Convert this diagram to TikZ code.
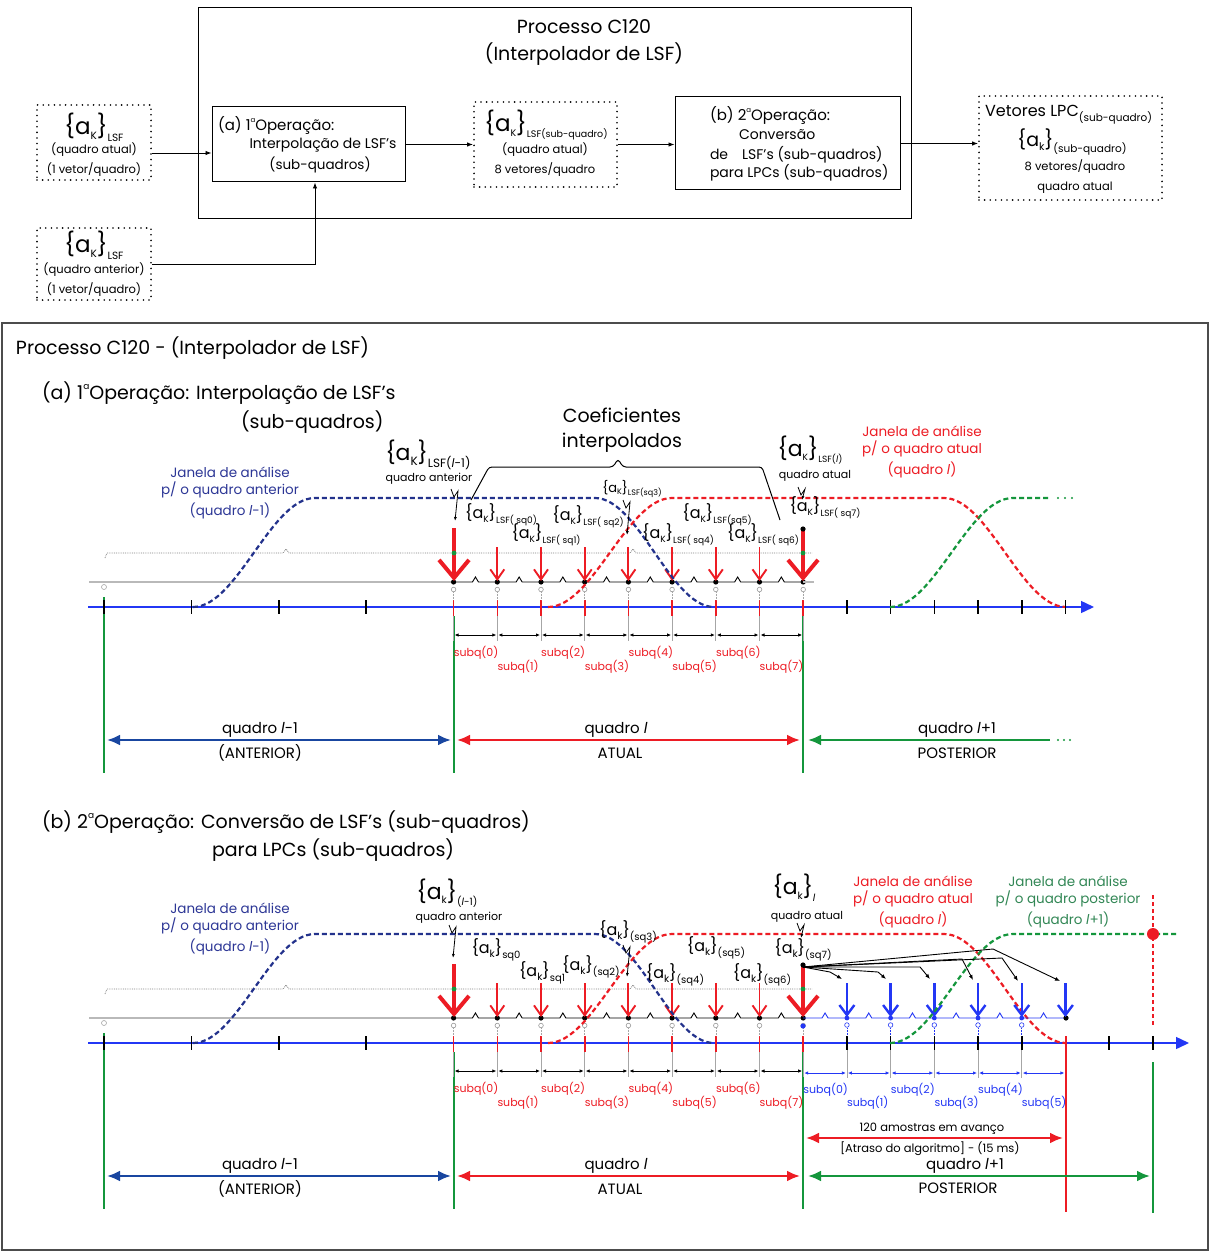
\documentclass[tikz,border=0pt]{standalone}
\usepackage{fontspec}
\setmainfont{Poppins}
\usetikzlibrary{arrows.meta,calc}

\definecolor{axisblue}{RGB}{35,55,245}
\definecolor{navy}{RGB}{25,70,160}
\definecolor{winblue}{RGB}{35,50,140}
\definecolor{labblue}{RGB}{45,55,150}
\definecolor{fred}{RGB}{237,28,36}
\definecolor{fgreen}{RGB}{20,150,60}
\definecolor{labgreen}{RGB}{50,135,85}

\newcommand{\fsz}[1]{\fontsize{#1}{#1}\selectfont}
% coefficient set {a_K}_sub
\newcommand{\coefk}[4]{{\fsz{#1}\{a\raisebox{-0.22em}{\fsz{#2}#3}\}\raisebox{-0.3em}{\fsz{#2}#4}}}
\newcommand{\il}{\textit{l}}
\newcommand{\ordn}[2]{#1\raisebox{0.5em}{\fsz{#2}a}}
% small broken arrow pointing down at x=#1 from y=#2 to y=#3
\newcommand{\bolt}[3]{\draw[boltarr] ({#1-4},#2) -- ({#1-1},{#2+8}) -- ({#1+3},{#2+2}) -- (#1,#3);}

\tikzset{
  dotbox/.style={draw, line width=1.8pt, dash pattern=on 0pt off 5.6pt, line cap=round, inner sep=0pt},
  procbox/.style={draw, line width=1pt, inner sep=0pt},
  flow/.style={line width=0.9pt, -{Latex[length=6pt,width=4.5pt]}},
  txt/.style={inner sep=0pt, outer sep=0pt},
  greyline/.style={gray!55, line width=1.1pt},
  subline/.style={black, line width=0.9pt},
  axisline/.style={axisblue, line width=1.4pt, -{Triangle[length=13pt,width=12pt]}},
  tickmark/.style={black, line width=1.6pt},
  redtick/.style={fred, line width=1.6pt},
  bigdown/.style={fred, line width=4pt, -{Straight Barb[length=18pt,width=30pt]}},
  smalldown/.style={fred, line width=1.9pt, -{Straight Barb[length=10pt,width=14pt]}},
  bluedown/.style={axisblue, line width=2.4pt, -{Straight Barb[length=10pt,width=15pt]}},
  win/.style={line width=2.2pt, dash pattern=on 5pt off 3pt},
  framearr/.style={line width=2.4pt, {Latex[length=13pt,width=11pt]}-{Latex[length=13pt,width=11pt]}},
  dimarr/.style={line width=0.8pt, {Latex[length=4pt,width=3.5pt]}-{Latex[length=4pt,width=3.5pt]}},
  boltarr/.style={line width=0.8pt, -{Latex[length=4pt,width=3pt]}},
  fan/.style={line width=0.9pt, -{Latex[length=5pt,width=4pt]}},
  vline/.style={fgreen, line width=1.6pt},
  sublbl/.style={inner sep=0pt, anchor=west, font=\fsz{11}},
}

% parts shared by both time-line panels (drawn for an axis at y=607)
\newcommand{\panelbase}{%
  \draw[greyline] (89,582) -- (454,582);
  \foreach \i in {8,...,15}{%
    \pgfmathsetmacro{\xa}{104+43.7*\i}%
    \pgfmathsetmacro{\xm}{\xa+21.85}%
    \pgfmathsetmacro{\xb}{\xa+43.7}%
    \draw[subline] (\xa,582) -- ({\xm-3},582) -- (\xm,577) -- ({\xm+3},582) -- (\xb,582);
    \draw[dimarr] ({\xa+1},635) -- ({\xb-1},635);
  }
  \draw[gray, line width=0.8pt, densely dotted] (105,558) -- (107,553) -- (283,553) -- (286,549) -- (289,553) -- (630,553) -- (633,549) -- (636,553) -- (812,553);
  \draw[gray!70, line width=0.6pt] (104,587) circle (2.5pt);
  \draw[vline] (104,597) -- (104,773);
  \draw[vline] (454,616) -- (454,773);
  \draw[vline] (803,616) -- (803,773);
  \foreach \i in {0,2,4,6}{\draw[tickmark] ({104+43.7*\i},600) -- ({104+43.7*\i},614);}
  \foreach \i in {8,...,16}{%
    \pgfmathsetmacro{\xa}{104+43.7*\i}%
    \draw[redtick] (\xa,600) -- (\xa,616);
    \draw[gray!70, line width=0.7pt] (\xa,616) -- (\xa,641);
    \draw[gray!70, line width=0.6pt, densely dotted] (\xa,592) -- (\xa,600);
    \draw[gray!80, line width=0.6pt, fill=white] (\xa,589.5) circle (2.3pt);
    \fill (\xa,582) circle (2.6pt);
  }
  \foreach \i in {9,...,15}{\draw[smalldown] ({104+43.7*\i},547) -- ({104+43.7*\i},581);}
  \draw[bigdown] (454,528) -- (454,581);
  \draw[bigdown] (803,529) -- (803,581);
  \fill (803,529) circle (2.6pt);
  \fill[fgreen] (454,553) circle (2.4pt) (803,553) circle (2.4pt);
  \foreach \k in {0,...,7}{%
    \pgfmathsetmacro{\xa}{104+43.7*(\k+8)}%
    \pgfmathsetmacro{\yl}{isodd(\k) ? 667 : 653}%
    \node[sublbl, text=fred] at (\xa,\yl) {subq(\k)};
  }
  % analysis windows of the previous and the current frame
  \draw[win, winblue] plot[domain=0:1, samples=30] ({193+122*\x},{607-109*(1-cos(180*\x))/2})
     -- (595,498) -- plot[domain=0:1, samples=30] ({595+119*\x},{498+109*(1-cos(180*\x))/2});
  \draw[win, fred] plot[domain=0:1, samples=30] ({548+124*\x},{607-109*(1-cos(180*\x))/2})
     -- (944,498) -- plot[domain=0:1, samples=30] ({944+122*\x},{498+109*(1-cos(180*\x))/2});
  \node[txt, text=labblue, align=center, font=\fsz{13.5}] at (230,493)
     {Janela de análise\\[4pt]p/ o quadro anterior\\[4pt](quadro \il-1)};
  % frame spans
  \draw[framearr, navy] (107,740) -- (451,740);
  \draw[framearr, fred] (457,740) -- (800,740);
  \node[txt, font=\fsz{15}] at (260,730) {quadro \il-1};
  \node[txt, font=\fsz{15}] at (260,753) {(ANTERIOR)};
  \node[txt, font=\fsz{15}] at (616,730) {quadro \il};
  \node[txt, font=\fsz{15}] at (620,753) {ATUAL};
}

\begin{document}
\begin{tikzpicture}[x=1pt,y=-1pt]
\useasboundingbox (0,0) rectangle (1210,1252);
\fill[white] (0,0) rectangle (1210,1252);

% ---------------- block diagram ----------------
\node[procbox, minimum width=713pt, minimum height=210pt] (proc) at (554.5,113) {};
\node[txt, font=\fsz{19}] (procT1) at (584,27) {Processo C120};
\node[txt, font=\fsz{19}] (procT2) at (584,54) {(Interpolador de LSF)};

\node[dotbox, minimum width=114pt, minimum height=75pt] (inA) at (94,142.5) {};
\node[txt] (inA1) at (94,127) {\coefk{23}{10.5}{K}{LSF}};
\node[txt, font=\fsz{11.5}] (inA2) at (94,150) {(quadro atual)};
\node[txt, font=\fsz{11.5}] (inA3) at (94,170) {(1 vetor/quadro)};

\node[dotbox, minimum width=114pt, minimum height=72pt] (inB) at (94,264) {};
\node[txt] (inB1) at (94,245) {\coefk{23}{10.5}{K}{LSF}};
\node[txt, font=\fsz{11.5}] (inB2) at (94,270) {(quadro anterior)};
\node[txt, font=\fsz{11.5}] (inB3) at (94,290) {(1 vetor/quadro)};

\node[procbox, minimum width=193pt, minimum height=75pt] (opA) at (308.5,144.5) {};
\node[txt, anchor=west, font=\fsz{15}] (opA1) at (218,125) {(a) \ordn{1}{7}Operação:};
\node[txt, font=\fsz{14}] (opA2) at (323,145) {Interpolação de LSF's};
\node[txt, font=\fsz{13.5}] (opA3) at (320,165) {(sub-quadros)};

\node[dotbox, minimum width=143pt, minimum height=85pt] (mid) at (545.5,144.5) {};
\node[txt] (mid1) at (546,125) {\coefk{23}{9.5}{K}{LSF(sub-quadro)}};
\node[txt, font=\fsz{11.5}] (mid2) at (545,150) {(quadro atual)};
\node[txt, font=\fsz{11.5}] (mid3) at (545,170) {8 vetores/quadro};

\node[procbox, minimum width=225pt, minimum height=93pt] (opB) at (787.5,143.5) {};
\node[txt, anchor=west, font=\fsz{15}] (opB1) at (710,115) {(b) \ordn{2}{7}Operação:};
\node[txt, anchor=west, font=\fsz{14}] (opB2) at (739,135) {Conversão};
\node[txt, anchor=west, font=\fsz{14}] (opB3) at (710,155) {de\hspace{14pt}LSF's (sub-quadros)};
\node[txt, anchor=west, font=\fsz{14}] (opB4) at (710,173) {para LPCs (sub-quadros)};

\node[dotbox, minimum width=183pt, minimum height=104pt] (out) at (1070.5,148) {};
\node[txt, anchor=west] (out1) at (985,115) {\fsz{16}Vetores LPC\raisebox{-0.3em}{\fsz{10.5}(sub-quadro)}};
\node[txt] (out2) at (1072,142) {\coefk{19}{10.5}{k}{(sub-quadro)}};
\node[txt, font=\fsz{11.5}] (out3) at (1075,167) {8 vetores/quadro};
\node[txt, font=\fsz{11.5}] (out4) at (1075,188) {quadro atual};

\coordinate (pA) at ([yshift=-10.5pt]inA.east);
\draw[flow] (pA) -- (pA -| opA.west);
\draw[flow] (inB.east) -| ([xshift=6.5pt]opA.south);
\draw[flow] (opA.east) -- (mid.west);
\draw[flow] (mid.east) -- (mid.east -| opB.west);
\draw[flow] (opB.east) -- (opB.east -| out.west);

% ---------------- time-line panel ----------------
\draw[gray!60!black, line width=1.2pt] (2,323) rectangle (1208,1250);
\node[txt, anchor=west, font=\fsz{19}] (hdr) at (16,348) {Processo C120 - (Interpolador de LSF)};

% (a) interpolation
\node[txt, anchor=west, font=\fsz{19}] (ha1) at (42,393) {(a) \ordn{1}{9}Operação: Interpolação de LSF's};
\node[txt, anchor=west, font=\fsz{19}] (ha2) at (241,422) {(sub-quadros)};

\draw[axisline] (88,607) -- (1094,607);
\panelbase
\draw[greyline] (803,582) -- (814,582);
\foreach \i in {17,...,22}{\draw[tickmark] ({104+43.7*\i},600) -- ({104+43.7*\i},614);}
\draw[win, fgreen] plot[domain=0:1, samples=30] ({890+123*\x},{607-109*(1-cos(180*\x))/2}) -- (1050,498);
\draw[fgreen, line width=2.4pt, dash pattern=on 0pt off 7pt, line cap=round] (1058,498) -- (1073,498);
\node[txt, text=fred, align=center, font=\fsz{13.5}] at (922,452)
   {Janela de análise\\[4pt]p/ o quadro atual\\[4pt](quadro \il)};
\draw[framearr, fgreen, {Latex[length=13pt,width=11pt]}-] (808,740) -- (1050,740);
\draw[fgreen, line width=2.4pt, dash pattern=on 0pt off 6pt, line cap=round] (1058,740) -- (1072,740);
\node[txt, font=\fsz{15}] at (957,730) {quadro \il+1};
\node[txt, font=\fsz{15}] at (957,753) {POSTERIOR};

\node[txt, font=\fsz{19}] at (622,415) {Coeficientes};
\node[txt, font=\fsz{19}] at (622,443) {interpolados};
\draw[line width=1pt, rounded corners=3pt] (471,500) -- (489,467) -- (613,467) -- (618,459) -- (623,467) -- (762,467) -- (780,520);

\node[txt] at (428,455) {\coefk{22}{12}{K}{LSF(\il-1)}};
\node[txt, font=\fsz{11}] at (429,479) {quadro anterior};
\bolt{455}{489}{521}
\node[txt] at (501,515) {\coefk{16}{9}{K}{LSF( sq0)}};
\node[txt] at (546,535) {\coefk{16}{9}{K}{LSF( sq1)}};
\node[txt] at (588,517) {\coefk{16}{9}{K}{LSF( sq2)}};
\node[txt] at (632,489) {\coefk{13}{8}{K}{LSF(sq3)}};
\bolt{627}{500}{535}
\node[txt] at (678,535) {\coefk{16}{9}{K}{LSF( sq4)}};
\node[txt] at (717,515) {\coefk{16}{9}{K}{LSF(sq5)}};
\node[txt] at (763,535) {\coefk{16}{9}{K}{LSF( sq6)}};
\node[txt] at (810,450) {\coefk{22}{9}{K}{LSF(\il)}};
\node[txt, font=\fsz{11}] at (815,476) {quadro atual};
\bolt{802}{487}{500}
\node[txt] at (825,508) {\coefk{16}{9}{K}{LSF( sq7)}};

% (b) conversion
\node[txt, anchor=west, font=\fsz{19}] (hb1) at (42,822) {(b) \ordn{2}{9}Operação: Conversão de LSF's (sub-quadros)};
\node[txt, anchor=west, font=\fsz{19}] (hb2) at (212,850) {para LPCs (sub-quadros)};

\draw[axisline] (88,1043) -- (1189,1043);
\begin{scope}[shift={(0,436)}]
  \panelbase
\end{scope}
% look-ahead sub-frames of the next frame
\foreach \i in {16,...,21}{%
  \pgfmathsetmacro{\xa}{104+43.7*\i}%
  \pgfmathsetmacro{\xm}{\xa+21.85}%
  \pgfmathsetmacro{\xb}{\xa+43.7}%
  \draw[axisblue, line width=0.9pt] (\xa,1018) -- ({\xm-3},1018) -- (\xm,1013) -- ({\xm+3},1018) -- (\xb,1018);
  \draw[dimarr, axisblue] ({\xa+1},1073) -- ({\xb-1},1073);
}
\foreach \i in {17,...,21,23,24}{\draw[tickmark] ({104+43.7*\i},1036) -- ({104+43.7*\i},1050);}
\foreach \i in {17,...,21}{%
  \pgfmathsetmacro{\xa}{104+43.7*\i}%
  \draw[axisblue, line width=0.6pt, densely dotted] (\xa,1028) -- (\xa,1036);
  \draw[axisblue, line width=0.6pt, fill=white] (\xa,1025) circle (2.3pt);
  \fill[axisblue] (\xa,1018) circle (2.4pt);
  \draw[gray!70, line width=0.7pt] (\xa,1050) -- (\xa,1078);
}
\fill[axisblue] (803,1026) circle (2.6pt);
\fill (1066,1018) circle (2.6pt);
\foreach \i in {17,...,22}{\draw[bluedown] ({104+43.7*\i},983) -- ({104+43.7*\i},1017);}
\foreach \k in {0,...,5}{%
  \pgfmathsetmacro{\xa}{104+43.7*(\k+16)}%
  \pgfmathsetmacro{\yl}{isodd(\k) ? 1103 : 1090}%
  \node[sublbl, text=axisblue] at (\xa,\yl) {subq(\k)};
}
\draw[fred, line width=1.8pt] (1066,1036) -- (1066,1212);
\draw[vline] (1153,1062) -- (1153,1213);

\draw[win, fgreen] plot[domain=0:1, samples=30] ({890+123*\x},{1043-109*(1-cos(180*\x))/2}) -- (1178,934);
\draw[fred, line width=2.2pt, dash pattern=on 4pt off 3pt] (1153,895) -- (1153,1025);
\fill[fred] (1153,934) circle (6pt);
\node[txt, text=fred, align=center, font=\fsz{13.5}] at (913,902)
   {Janela de análise\\[4pt]p/ o quadro atual\\[4pt](quadro \il)};
\node[txt, text=labgreen, align=center, font=\fsz{13.5}] at (1068,902)
   {Janela de análise\\[4pt]p/ o quadro posterior\\[4pt](quadro \il+1)};

\coordinate (src) at (803,967);
\draw[fan] (src) -- (830,972) -- (842,979);
\draw[fan] (src) -- (878,972) -- (886,979);
\draw[fan] (src) -- (920,967) -- (930,979);
\draw[fan] (src) -- (962,959) -- (973,980);
\draw[fan] (src) -- (1002,958) -- (1018,981);
\draw[fan] (src) -- (993,949) -- (1060,981);

\node[txt] at (447,893) {\coefk{22}{10}{k}{(\il-1)}};
\node[txt, font=\fsz{11}] at (459,918) {quadro anterior};
\bolt{453}{925}{958}
\node[txt] at (496,950) {\coefk{16}{10}{k}{sq0}};
\node[txt] at (542,973) {\coefk{16}{10}{k}{sq1}};
\node[txt] at (591,967) {\coefk{16}{10}{k}{(sq2)}};
\node[txt] at (628,932) {\coefk{16}{10}{k}{(sq3)}};
\bolt{627}{945}{977}
\node[txt] at (675,975) {\coefk{16}{10}{k}{(sq4)}};
\node[txt] at (716,948) {\coefk{16}{10}{k}{(sq5)}};
\node[txt] at (762,975) {\coefk{16}{10}{k}{(sq6)}};
\node[txt] at (794,888) {\coefk{22}{10}{k}{\il}};
\node[txt, font=\fsz{11}] at (807,917) {quadro atual};
\bolt{801}{923}{938}
\node[txt] at (803,950) {\coefk{16}{10}{k}{(sq7)}};

\draw[framearr, fred] (806,1138) -- (1063,1138);
\node[txt, font=\fsz{11.5}] at (932,1129) {120 amostras em avanço};
\node[txt, font=\fsz{11.5}] at (930,1149) {[Atraso do algoritmo] - (15 ms)};
\draw[framearr, fgreen] (808,1176) -- (1150,1176);
\node[txt, font=\fsz{15}] at (965,1166) {quadro \il+1};
\node[txt, font=\fsz{15}] at (958,1188) {POSTERIOR};
\end{tikzpicture}
\end{document}
